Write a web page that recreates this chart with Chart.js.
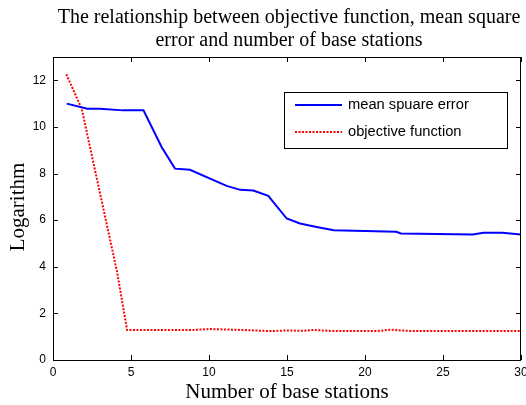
<!DOCTYPE html>
<html>
<head>
<meta charset="utf-8">
<script src="https://cdn.jsdelivr.net/npm/chart.js@4.4.0/dist/chart.umd.min.js"></script>
<style>
  html, body { margin: 0; padding: 0; background: #fff; }
  #wrap { width: 526px; height: 405px; }
</style>
</head>
<body>
<div id="wrap"><canvas id="c" width="526" height="405"></canvas></div>
<script>
// Mean square error vs number of base stations
const mseX = [0.88, 2.2, 3.0, 4.5, 5.8, 6.97, 7.82, 8.78, 11.13, 12.0, 12.84, 13.8, 14.98, 15.83, 16.9, 18.0, 22.0, 22.3, 26.9, 27.6, 28.8, 30.0];
const mseY = [11.0, 10.78, 10.78, 10.71, 10.71, 9.13, 8.21, 8.16, 7.47, 7.3, 7.27, 7.04, 6.07, 5.86, 5.71, 5.57, 5.5, 5.43, 5.38, 5.46, 5.46, 5.38];

// Objective function vs number of base stations
const objX = [0.85, 1.84, 4.1, 4.75, 9.0, 10.0, 12.0, 14.0, 15.0, 16.0, 16.7, 18.0, 21.0, 21.6, 23.0, 30.0];
const objY = [12.26, 10.78, 3.8, 1.29, 1.29, 1.33, 1.29, 1.24, 1.27, 1.25, 1.29, 1.24, 1.25, 1.3, 1.24, 1.24];

const xTicks = [0, 5, 10, 15, 20, 25, 30];
const yTicks = [0, 2, 4, 6, 8, 10, 12];

const titleLines = ['The relationship between objective function, mean square', 'error and number of base stations'];
const xTitle = 'Number of base stations';
const yTitle = 'Logarithm';

const pts = (xs, ys) => xs.map((x, i) => ({ x: x, y: ys[i] }));

// box, inward ticks on all four sides, titles and legend (matlab look)
const framePlugin = {
  id: 'frame',
  afterDraw(chart) {
    const ctx = chart.ctx;
    const a = chart.chartArea;
    const sx = chart.scales.x, sy = chart.scales.y;
    const tl = 5;
    const mid = (a.left + a.right) / 2;
    ctx.save();
    ctx.strokeStyle = '#000';
    ctx.lineWidth = 1;
    ctx.strokeRect(a.left + 0.5, a.top + 0.5, a.right - a.left - 1, a.bottom - a.top);
    ctx.beginPath();
    xTicks.forEach(v => {
      const px = Math.round(sx.getPixelForValue(v)) + 0.5;
      ctx.moveTo(px, a.bottom); ctx.lineTo(px, a.bottom - tl);
      ctx.moveTo(px, a.top); ctx.lineTo(px, a.top + tl);
    });
    yTicks.forEach(v => {
      const py = Math.round(sy.getPixelForValue(v)) + 0.5;
      ctx.moveTo(a.left, py); ctx.lineTo(a.left + tl, py);
      ctx.moveTo(a.right, py); ctx.lineTo(a.right - tl, py);
    });
    ctx.stroke();

    // titles
    ctx.fillStyle = '#000';
    ctx.font = '20px "Liberation Serif", "Times New Roman", serif';
    ctx.textAlign = 'center';
    ctx.textBaseline = 'alphabetic';
    ctx.fillText(titleLines[0], mid + 2, 23);
    ctx.fillText(titleLines[1], mid + 2, 46);
    ctx.font = '21px "Liberation Serif", "Times New Roman", serif';
    ctx.fillText(xTitle, mid, 398);
    ctx.save();
    ctx.translate(24, 207);
    ctx.rotate(-Math.PI / 2);
    ctx.fillText(yTitle, 0, 0);
    ctx.restore();

    // legend
    const lx = 284, ly = 92, lw = 223, lh = 56;
    ctx.fillStyle = '#fff';
    ctx.fillRect(lx, ly, lw, lh);
    ctx.strokeStyle = '#000';
    ctx.strokeRect(lx + 0.5, ly + 0.5, lw, lh);
    ctx.font = '14.7px "Liberation Sans", Arial, sans-serif';
    ctx.textAlign = 'left';
    ctx.textBaseline = 'middle';
    chart.data.datasets.forEach((ds, i) => {
      const y = ly + 13 + i * 27;
      ctx.beginPath();
      ctx.strokeStyle = ds.borderColor;
      ctx.lineWidth = ds.borderWidth;
      ctx.setLineDash(ds.borderDash || []);
      ctx.moveTo(lx + 11, y);
      ctx.lineTo(lx + 58, y);
      ctx.stroke();
      ctx.setLineDash([]);
      ctx.fillStyle = '#000';
      ctx.fillText(ds.label, lx + 64, y);
    });
    ctx.restore();
  }
};

new Chart(document.getElementById('c'), {
  type: 'line',
  data: {
    datasets: [
      {
        label: 'mean spuare error',
        data: pts(mseX, mseY),
        borderColor: '#0000ff',
        borderWidth: 2,
        pointRadius: 0,
        tension: 0,
        fill: false
      },
      {
        label: 'objective function',
        data: pts(objX, objY),
        borderColor: '#ff0000',
        borderWidth: 2,
        borderDash: [2, 1.5],
        pointRadius: 0,
        tension: 0,
        fill: false
      }
    ]
  },
  plugins: [framePlugin],
  options: {
    responsive: false,
    animation: false,
    layout: { padding: { left: 0, right: 5, top: 57, bottom: 0 } },
    plugins: {
      legend: { display: false },
      tooltip: { enabled: false }
    },
    scales: {
      x: {
        type: 'linear',
        min: 0,
        max: 30,
        afterBuildTicks: s => { s.ticks = xTicks.map(v => ({ value: v })); },
        afterFit: s => { s.height = 45; s.paddingLeft = 0; s.paddingRight = 0; },
        grid: { display: false, drawTicks: false },
        border: { display: false },
        ticks: {
          color: '#000',
          padding: 5,
          maxRotation: 0,
          font: { family: '"Liberation Sans", Arial, sans-serif', size: 12 }
        }
      },
      y: {
        min: 0,
        max: 13,
        afterBuildTicks: s => { s.ticks = yTicks.map(v => ({ value: v })); },
        afterFit: s => { s.width = 53; s.paddingTop = 0; s.paddingBottom = 0; },
        grid: { display: false, drawTicks: false },
        border: { display: false },
        ticks: {
          color: '#000',
          padding: 7,
          font: { family: '"Liberation Sans", Arial, sans-serif', size: 12 }
        }
      }
    }
  }
});
</script>
</body>
</html>
